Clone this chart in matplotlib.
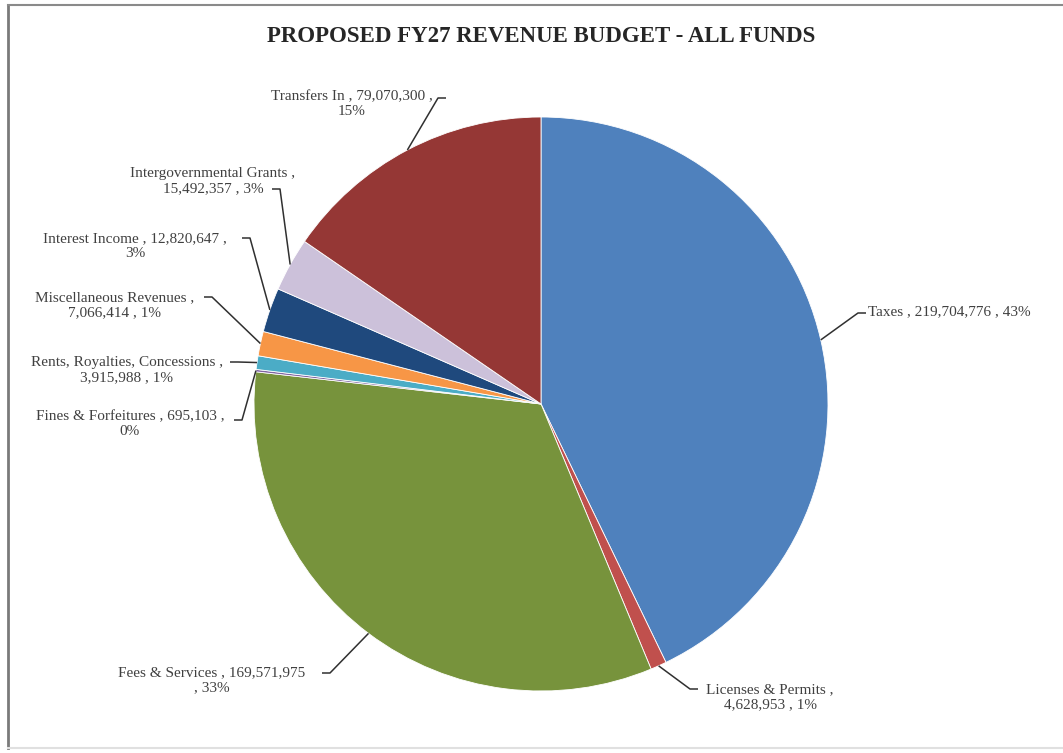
import numpy as np
import matplotlib
matplotlib.use("Agg")
import matplotlib.pyplot as plt

# values (clockwise from 12 o'clock)
categories = ["Taxes", "Licenses & Permits", "Fees & Services", "Fines & Forfeitures",
              "Rents, Royalties, Concessions", "Miscellaneous Revenues", "Interest Income",
              "Intergovernmental Grants", "Transfers In"]
amounts = [219704776, 4628953, 169571975, 695103, 3915988, 7066414, 12820647, 15492357, 79070300]
pct_labels = ["43%", "1%", "33%", "0%", "1%", "1%", "3%", "3%", "15%"]
colors = ["#4F81BD", "#C0504D", "#77933C", "#8064A2", "#4BACC6", "#F79646",
          "#1F497D", "#CCC1DA", "#953735"]

# label text layout in pixels: (text x, text y, ha, line break pattern, attach x, attach y)
label_layout = [
    (868, 312, "left", "{n} , {v} , {p}", 866, 313),
    (770, 697, "center", "{n} ,\n{v} , {p}", 698, 689),
    (212, 680, "center", "{n} , {v}\n, {p}", 322, 673),
    (130, 424, "center", "{n} , {v} ,\n{p}", 234, 420),
    (127, 370, "center", "{n} ,\n{v} , {p}", 230, 362),
    (115, 305, "center", "{n} ,\n{v} , {p}", 204, 297),
    (135, 246, "center", "{n} , {v} ,\n{p}", 242, 238),
    (213, 181, "center", "{n} ,\n{v} , {p}", 272, 189),
    (352, 104, "center", "{n} , {v} ,\n{p}", 446, 98),
]

W, H = 1063, 753
fig = plt.figure(figsize=(W / 100, H / 100), dpi=100)
fig.patch.set_facecolor("white")

cx, cy, r = 541, 404, 287
ax = fig.add_axes([(cx - r) / W, (H - cy - r) / H, 2 * r / W, 2 * r / H])
wedges, _ = ax.pie(amounts, colors=colors, startangle=90, counterclock=False,
                   radius=1, wedgeprops=dict(edgecolor="white", linewidth=0.6))
ax.set_xlim(-1, 1)
ax.set_ylim(-1, 1)
ax.set_aspect("equal")
ax.axis("off")

# overlay axes in pixel coordinates for labels and leader lines
ov = fig.add_axes([0, 0, 1, 1], zorder=5)
ov.set_xlim(0, W)
ov.set_ylim(H, 0)
ov.axis("off")
ov.patch.set_alpha(0)

fig.canvas.draw()
font = dict(family=["Liberation Serif", "DejaVu Serif"], fontsize=11, color="#404040")
for w, name, amt, pct, (tx, ty, ha, fmt, axp, ayp) in zip(wedges, categories, amounts,
                                                          pct_labels, label_layout):
    mid = np.deg2rad((w.theta1 + w.theta2) / 2)
    disp = ax.transData.transform((np.cos(mid), np.sin(mid)))
    ex, ey = ov.transData.inverted().transform(disp)
    txt = fmt.format(n=name, v=f"{amt:,}", p=pct)
    ov.text(tx, ty, txt, ha=ha, va="center", linespacing=1.2, **font)
    hx = axp - 8 if axp > ex else axp + 8
    ov.plot([axp, hx, ex], [ayp, ayp, ey], color="#303030", lw=1.1, solid_capstyle="butt")

ov.text(W / 2 + 10, 36, "PROPOSED FY27 REVENUE BUDGET - ALL FUNDS", ha="center", va="center",
        family=["Liberation Serif", "DejaVu Serif"], fontsize=16.5, fontweight="bold", color="#262626")

# frame around the chart area
ov.plot([8, 8], [5, 748], color="#7a7a7a", lw=2)
ov.plot([8, W], [5, 5], color="#8a8a8a", lw=1.5)
ov.plot([8, W], [748, 748], color="#e0e0e0", lw=1.5)

fig.savefig("out.png", dpi=100, facecolor="white")
